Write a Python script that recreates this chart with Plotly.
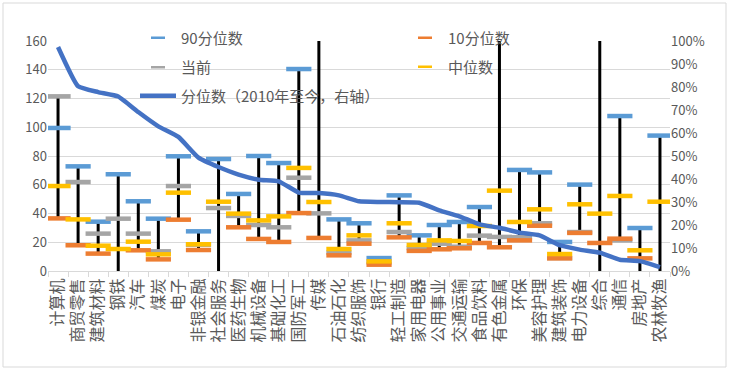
import plotly.graph_objects as go

categories = ["计算机", "商贸零售", "建筑材料", "钢铁", "汽车", "煤炭", "电子", "非银金融",
              "社会服务", "医药生物", "机械设备", "基础化工", "国防军工", "传媒", "石油石化",
              "纺织服饰", "银行", "轻工制造", "家用电器", "公用事业", "交通运输", "食品饮料",
              "有色金属", "环保", "美容护理", "建筑装饰", "电力设备", "综合", "通信", "房地产", "农林牧渔"]

p90 = [99.5, 72.8, 34.3, 67.3, 48.5, 36.4, 79.8, 27.6, 77.9, 53.6, 80.0, 75.1, 140.5, 200.0, 35.9,
       33.2, 9.0, 52.6, 24.8, 32.0, 34.1, 44.5, 200.0, 70.3, 68.6, 20.2, 60.1, 200.0, 107.8, 29.9, 94.2]
current = [121.5, 61.9, 26.0, 36.4, 26.0, 13.7, 59.1, 18.3, 43.8, 38.3, 32.0, 30.4, 64.9, 40.1, 12.8,
           21.3, 6.0, 27.1, 16.0, 19.0, 16.9, 24.6, 23.7, 23.5, 33.2, 9.0, 27.1, -15.0, 21.3, -15.0, -15.0]
median = [59.1, 35.9, 17.6, 15.3, 20.4, 11.6, 54.5, 18.6, 48.2, 39.9, 35.2, 38.0, 71.7, 48.0, 15.3,
          24.8, 6.7, 33.2, 18.1, 21.3, 20.9, 31.3, 55.9, 34.1, 42.9, 11.8, 46.4, 39.9, 52.2, 14.4, 48.2]
p10 = [36.6, 17.9, 12.1, -15.0, 14.4, 8.1, 35.7, 14.6, -15.0, 30.4, 22.3, 20.2, 40.3, 23.0, 10.9,
       19.0, 4.4, 23.4, 14.0, 15.1, 15.8, 19.5, 16.5, 21.3, 31.5, 8.8, 26.5, 19.5, 22.5, 8.8, -20.0]
pct_rank = [0.974, 0.803, 0.778, 0.759, 0.691, 0.629, 0.583, 0.493, 0.452, 0.419, 0.397, 0.390,
            0.341, 0.339, 0.329, 0.303, 0.300, 0.299, 0.297, 0.264, 0.238, 0.203, 0.188, 0.167,
            0.155, 0.112, 0.093, 0.080, 0.049, 0.043, 0.017]

FONT = "Noto Sans CJK SC"
TXT = "#595959"
GRID = "#d9d9d9"

# plot area in pixels
L, R, T, B = 48, 670, 41, 271
W, H = 729, 373


def px2x(px):
    return (px - L) / (R - L)


def px2y(py):
    return (B - py) / (B - T)


fig = go.Figure()

# percentile line (secondary axis), drawn first so it sits behind
fig.add_trace(go.Scatter(
    x=categories, y=pct_rank, yaxis="y2", mode="lines",
    line=dict(color="#4472C4", width=4.5, shape="spline", smoothing=0.4),
    name="分位数（2010年至今，右轴）", legend="legend3",
))

# high-low lines
hx, hy = [], []
for c, a, b, m, d in zip(categories, p90, current, median, p10):
    vals = [a, b, m, d]
    hx += [c, c, None]
    hy += [min(vals), max(vals), None]
fig.add_trace(go.Scatter(x=hx, y=hy, mode="lines", line=dict(color="black", width=3),
                         showlegend=False, hoverinfo="skip"))

series = [
    ("90分位数", p90, "#5B9BD5", "legend"),
    ("当前", current, "#A5A5A5", "legend2"),
    ("10分位数", p10, "#ED7D31", "legend4"),
    ("中位数", median, "#FFC000", "legend5"),
]
for name, vals, col, lg in series:
    fig.add_trace(go.Scatter(
        x=categories, y=vals, mode="markers",
        marker=dict(symbol="line-ew", size=18, line=dict(color=col, width=4.5)),
        showlegend=False, name=name,
    ))
    # legend-only proxy with small dash
    fig.add_trace(go.Scatter(
        x=[None], y=[None], mode="markers",
        marker=dict(symbol="line-ew", size=10, line=dict(color=col, width=2.5)),
        name=name, legend=lg,
    ))

leg_common = dict(font=dict(family=FONT, size=15, color=TXT), bgcolor="rgba(0,0,0,0)",
                  xanchor="left", yanchor="middle", borderwidth=0, itemwidth=36)
left_x = px2x(158 - 23)
right_x = px2x(425 - 23)
layout_legends = dict(
    legend=dict(x=left_x, y=px2y(38), **leg_common),
    legend2=dict(x=left_x, y=px2y(67.5), **leg_common),
    legend3=dict(x=left_x, y=px2y(96), **leg_common),
    legend4=dict(x=right_x, y=px2y(38), **leg_common),
    legend5=dict(x=right_x, y=px2y(67), **leg_common),
)

fig.update_layout(
    width=W, height=H,
    margin=dict(l=L, r=W - R, t=T, b=H - B),
    paper_bgcolor="white", plot_bgcolor="white",
    font=dict(family=FONT, color=TXT, size=13),
    xaxis=dict(type="category", tickangle=-90, tickfont=dict(size=16, color=TXT),
               showline=True, linecolor=GRID, linewidth=1,
               ticks="outside", tickson="boundaries", ticklen=5, tickcolor=GRID,
               showgrid=False, range=[-0.5, len(categories) - 0.5]),
    yaxis=dict(range=[0, 160], dtick=20, showgrid=True, gridcolor=GRID, gridwidth=1,
               zeroline=False, showline=False, tickfont=dict(size=13, color=TXT), ticks=""),
    yaxis2=dict(range=[0, 1], dtick=0.1, tickformat=".0%", overlaying="y", side="right",
                showgrid=False, zeroline=False, showline=False,
                tickfont=dict(size=13, color=TXT)),
    shapes=[dict(type="rect", xref="paper", yref="paper",
                 x0=px2x(3), x1=px2x(726), y0=px2y(367), y1=px2y(3),
                 line=dict(color=GRID, width=1), fillcolor="rgba(0,0,0,0)", layer="below")],
    **layout_legends,
)

fig.write_html("out.html", config={"displayModeBar": False},
               post_script="document.body.style.margin='0';")
